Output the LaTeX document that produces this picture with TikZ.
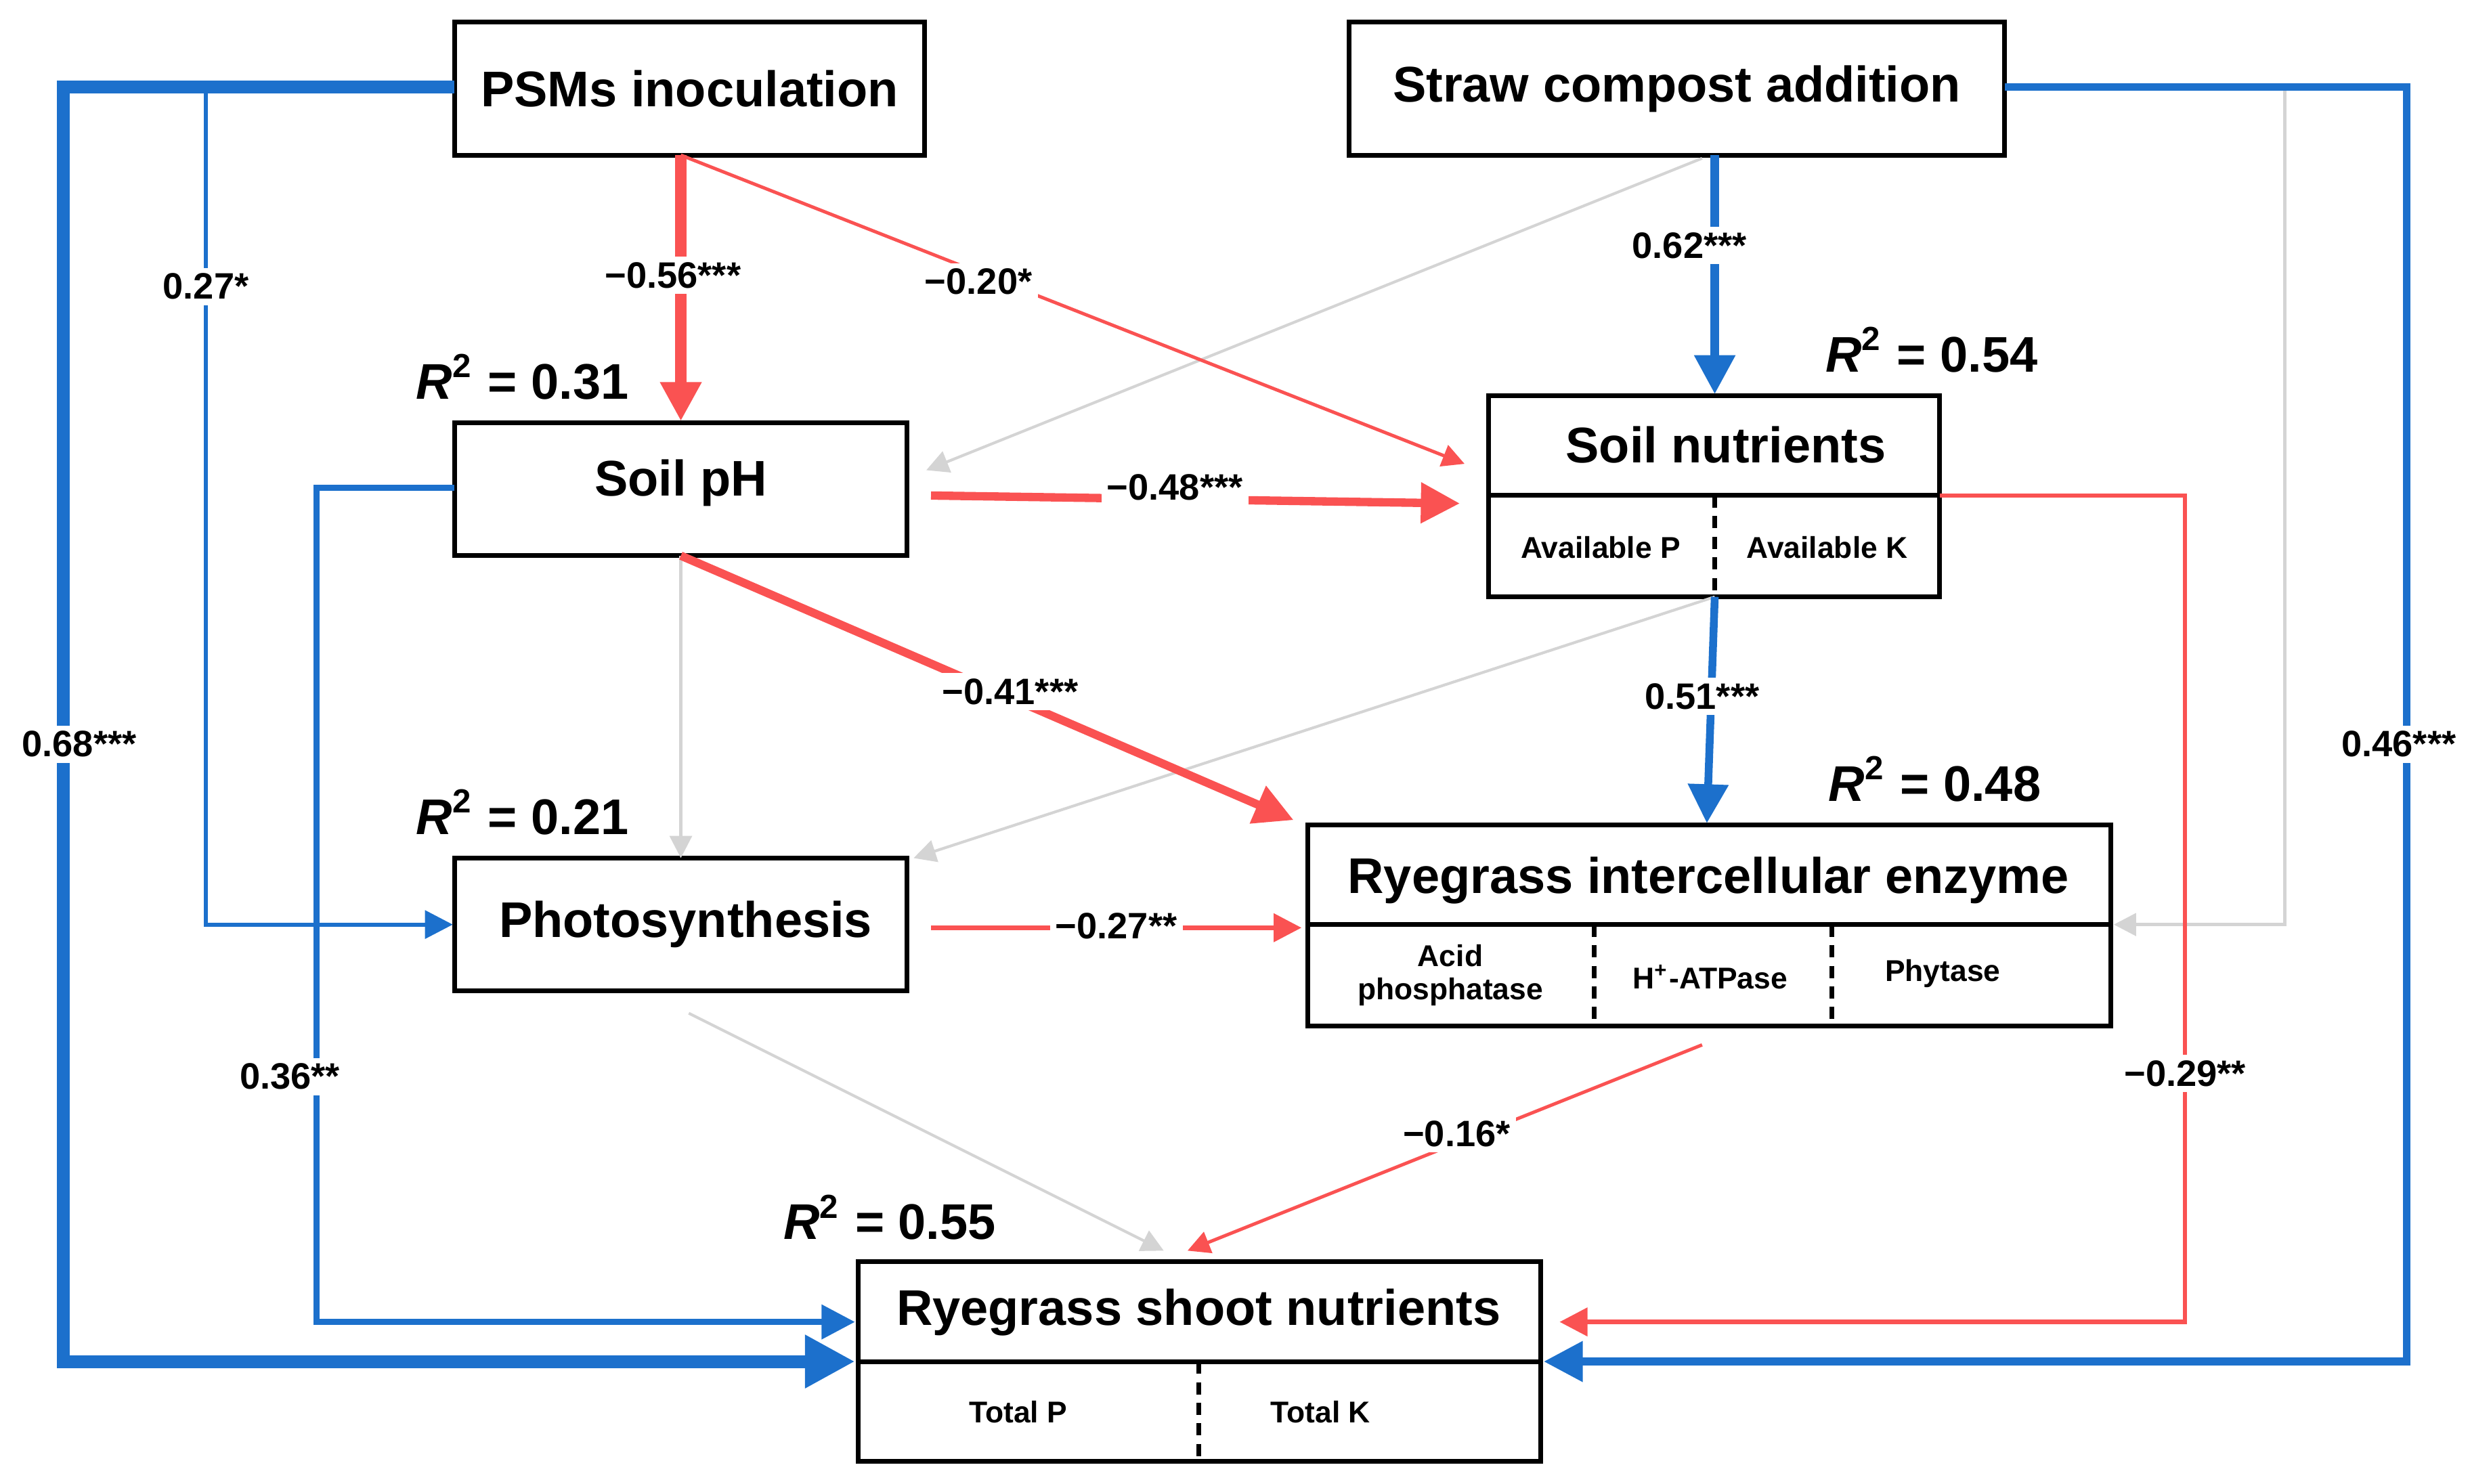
\documentclass[tikz,border=0pt]{standalone}
\usepackage{fontspec}
\setmainfont{Liberation Sans}
\usetikzlibrary{arrows.meta}
\definecolor{rd}{RGB}{250,82,82}
\definecolor{bl}{RGB}{28,112,204}
\definecolor{gy}{RGB}{212,212,212}
\begin{document}
\begin{tikzpicture}[x=0.01cm,y=-0.01cm,
  box/.style={draw,line width=0.85pt},
  ttl/.style={font=\bfseries\fontsize{9}{10}\selectfont},
  sub/.style={font=\bfseries\fontsize{5.4}{6}\selectfont,align=center},
  lab/.style={fill=white,inner sep=1pt,font=\bfseries\fontsize{6.6}{7}\selectfont},
  rsq/.style={font=\bfseries\fontsize{9}{10}\selectfont},
  tip/.style={-{Triangle[length=#1,width=#1]}},
  dv/.style={line width=0.85pt,dash pattern=on 2.2pt off 1.5pt}]
\useasboundingbox (0,0) rectangle (1560,937);
% boxes
\draw[box] (287,14) rectangle (584,98); \node[ttl] (psm) at (435.5,56) {PSMs inoculation};
\draw[box] (852,14) rectangle (1266,98); \node[ttl] (str) at (1059,56) {Straw compost addition};
\draw[box] (287,267) rectangle (573,351); \node[ttl] (ph) at (430,305) {Soil pH};
\draw[box] (940,250) rectangle (1225,377); \draw[line width=0.85pt] (940,313)--(1225,313);
\draw[dv] (1083,313)--(1083,377);
\node[ttl] (sn) at (1090,281) {Soil nutrients};
\node[sub] at (1011,346) {Available P}; \node[sub] at (1154,346) {Available K};
\draw[box] (287,542) rectangle (573,626); \node[ttl] (ps) at (433,584) {Photosynthesis};
\draw[box] (826,521) rectangle (1333,648); \draw[line width=0.85pt] (826,584)--(1333,584);
\draw[dv] (1007,584)--(1007,648); \draw[dv] (1157,584)--(1157,648);
\node[ttl] (enz) at (1079,556) {Ryegrass intercellular enzyme};
\node[sub] at (916,616) {Acid\\phosphatase}; \node[sub] at (1080,617) {H\textsuperscript{+}-ATPase};
\node[sub] at (1227,615) {Phytase};
\draw[box] (542,797) rectangle (973,923); \draw[line width=0.85pt] (542,860)--(973,860);
\draw[dv] (757,860)--(757,923);
\node[ttl] (sh) at (757,829) {Ryegrass shoot nutrients};
\node[sub] at (643,892) {Total P}; \node[sub] at (834,892) {Total K};
% R2
\node[rsq] at (330,238) {\textit{R}\textsuperscript{2} = 0.31};
\node[rsq] at (1220,221) {\textit{R}\textsuperscript{2} = 0.54};
\node[rsq] at (330,513) {\textit{R}\textsuperscript{2} = 0.21};
\node[rsq] at (1222,492) {\textit{R}\textsuperscript{2} = 0.48};
\node[rsq] at (562,769) {\textit{R}\textsuperscript{2} = 0.55};
% gray paths
\draw[gy,line width=0.5pt,tip=4pt] (430,351)--(430,542);
\draw[gy,line width=0.5pt,tip=4pt] (1075,100)--(585,297);
\draw[gy,line width=0.5pt,tip=4pt] (1083,377)--(577,542);
\draw[gy,line width=0.6pt,tip=4pt] (1443,55)--(1443,584)--(1335,584);
\draw[gy,line width=0.5pt,tip=4pt] (435,640)--(735,790);
% blue paths
\draw[bl,line width=2.3pt,tip=9pt] (287,55)--(40,55)--(40,860)--(540,860);
\node[lab] at (50,470) {0.68***};
\draw[bl,line width=0.7pt,tip=5pt] (130,55)--(130,584)--(286,584);
\node[lab] at (130,181) {0.27*};
\draw[bl,line width=1.1pt,tip=6pt] (287,308)--(200,308)--(200,835)--(540,835);
\node[lab] at (183,680) {0.36**};
\draw[bl,line width=1.6pt,tip=7pt] (1083,98)--(1083,249);
\node[lab] at (1067,155) {0.62***};
\draw[bl,line width=1.4pt,tip=7pt] (1083,377)--(1078,520);
\node[lab] at (1075,440) {0.51***};
\draw[bl,line width=1.4pt,tip=7pt] (1266,55)--(1520,55)--(1520,860)--(975,860);
\node[lab] at (1515,470) {0.46***};
% red paths
\draw[rd,line width=2pt,tip=7pt] (430,98)--(430,266);
\node[lab] at (425,174) {−0.56***};
\draw[rd,line width=0.6pt,tip=4pt] (430,98)--(925,293);
\node[lab] at (618,178) {−0.20*};
\draw[rd,line width=1.5pt,tip=7pt] (588,313)--(922,318);
\node[lab] at (742,308) {−0.48***};
\draw[rd,line width=1.5pt,tip=7pt] (430,351)--(817,518);
\node[lab] at (638,437) {−0.41***};
\draw[rd,line width=0.8pt,tip=5pt] (588,586)--(822,586);
\node[lab] at (705,585) {−0.27**};
\draw[rd,line width=0.8pt,tip=5pt] (1225,313)--(1380,313)--(1380,835)--(985,835);
\node[lab] at (1380,678) {−0.29**};
\draw[rd,line width=0.6pt,tip=4pt] (1075,660)--(750,790);
\node[lab] at (920,716) {−0.16*};
\end{tikzpicture}
\end{document}
